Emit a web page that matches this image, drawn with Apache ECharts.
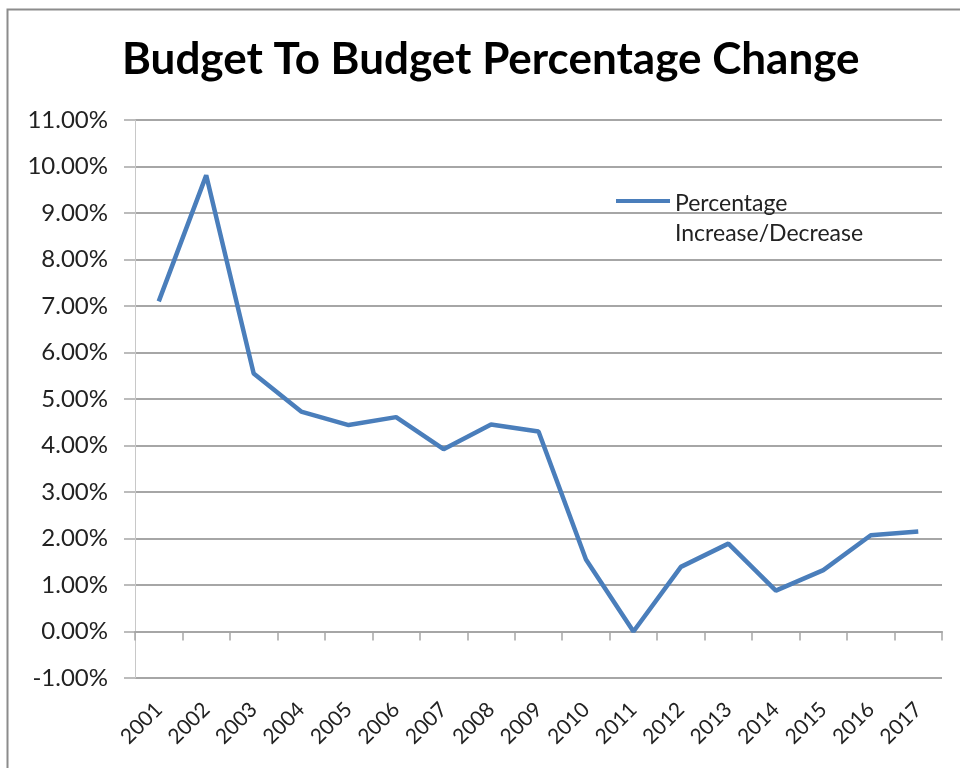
<!DOCTYPE html>
<html>
<head>
<meta charset="utf-8">
<script src="https://cdn.jsdelivr.net/npm/echarts@6/dist/echarts.min.js"></script>
<style>
html,body{margin:0;padding:0;background:#fff;}
#c{width:960px;height:768px;}
</style>
</head>
<body>
<div id="c"></div>
<script>
var titleText = 'Budget To Budget Percentage Change';
var seriesName = 'Percentage\nIncrease/Decrease';
var years = ['2001','2002','2003','2004','2005','2006','2007','2008','2009','2010','2011','2012','2013','2014','2015','2016','2017'];
var pctChange = [7.10, 9.81, 5.55, 4.73, 4.44, 4.61, 3.92, 4.45, 4.30, 1.55, 0.0, 1.39, 1.89, 0.88, 1.32, 2.07, 2.15];
var yMin = -1, yMax = 11, yStep = 1;

var chart = echarts.init(document.getElementById('c'));
var titleFont = 'Lato, "Open Sans", sans-serif';
var font = 'Lato, "Open Sans", sans-serif';
chart.setOption({
  animation: false,
  backgroundColor: '#ffffff',
  graphic: [{
    type: 'rect', left: 5, top: 7,
    shape: {width: 1000, height: 800},
    style: {fill: 'none', stroke: '#8c8c8c', lineWidth: 2},
    silent: true
  }],
  title: {
    text: titleText, left: 117, top: 33,
    textStyle: {fontFamily: titleFont, fontWeight: 'bold', fontSize: 44, color: '#000'}
  },
  legend: {
    left: 611, top: 184,
    itemWidth: 54, itemHeight: 40, itemGap: 0,
    data: [{name: seriesName, icon: 'path://M0,0 L54,0 L54,4 L0,4 Z M0,39.9 L0.1,39.9 L0.1,40 L0,40 Z'}],
    textStyle: {fontFamily: font, fontSize: 23, color: '#222', lineHeight: 30},
    itemStyle: {color: '#4A7EBB'}
  },
  grid: {left: 135, right: 18, top: 120, bottom: 90, containLabel: false},
  xAxis: [{
    type: 'category', data: years, position: 'bottom',
    axisLine: {show: false, onZero: false},
    axisTick: {show: false},
    axisLabel: {interval: 0, rotate: 45, fontFamily: font, fontSize: 21, color: '#222', margin: 28}
  }, {
    type: 'category', data: years, position: 'bottom',
    axisLine: {show: true, onZero: true, lineStyle: {color: '#a6a6a6', width: 2}},
    axisTick: {show: true, inside: false, length: 9, interval: 0, lineStyle: {color: '#a6a6a6', width: 1.5}},
    axisLabel: {show: false}
  }],
  yAxis: {
    type: 'value', min: yMin, max: yMax, interval: yStep,
    axisLine: {show: true, lineStyle: {color: '#c8c8c8', width: 1}},
    axisTick: {show: true, length: 11, lineStyle: {color: '#a6a6a6', width: 1.5}},
    splitLine: {lineStyle: {color: '#a6a6a6', width: 2}},
    axisLabel: {fontFamily: font, fontSize: 24, color: '#222', margin: 27,
      formatter: function (v) { return v.toFixed(2) + '%'; }}
  },
  series: [{
    name: seriesName, type: 'line', xAxisIndex: 0, data: pctChange,
    showSymbol: false, symbol: 'none',
    lineStyle: {color: '#4A7EBB', width: 4.5},
    itemStyle: {color: '#4A7EBB'}
  }]
});
</script>
</body>
</html>
